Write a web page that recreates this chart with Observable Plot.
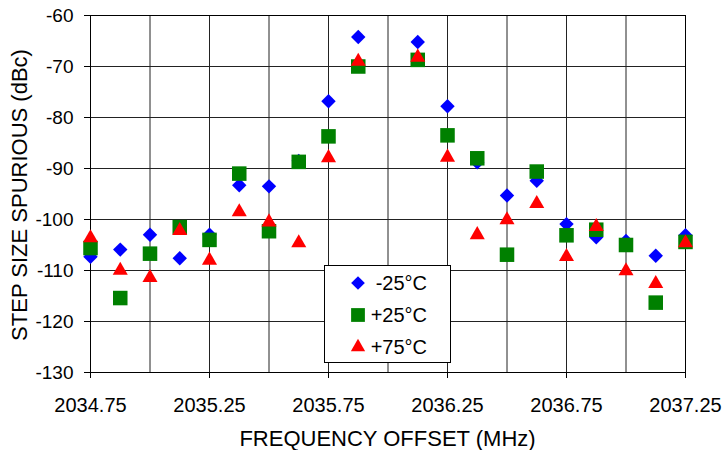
<!DOCTYPE html>
<html>
<head>
<meta charset="utf-8">
<script src="https://cdn.jsdelivr.net/npm/d3@7"></script>
<script src="https://cdn.jsdelivr.net/npm/@observablehq/plot@0.6"></script>
<style>
  body { margin: 0; background: #fff; font-family: "Liberation Sans", Arial, Helvetica, sans-serif; }
  #wrap { position: relative; width: 723px; height: 450px; overflow: hidden; }
  #wrap svg { display: block; }
  .ttl { position: absolute; font-size: 22px; color: #000; white-space: nowrap; line-height: 1; }
  #xt { left: 387.5px; top: 428px; transform: translateX(-50%); }
  #yt { left: 20px; top: 195px; transform: translate(-50%, -50%) rotate(-90deg); }
  #legend { position: absolute; left: 324px; top: 265px; width: 125px; height: 96px; border: 1px solid #000; background: #fff; }
</style>
</head>
<body>
<div id="wrap"></div>
<script>
// ---- data ----
const freq = [2034.75, 2034.875, 2035.0, 2035.125, 2035.25, 2035.375, 2035.5, 2035.625, 2035.75, 2035.875,
              2036.125, 2036.25, 2036.375, 2036.5, 2036.625, 2036.75, 2036.875, 2037.0, 2037.125, 2037.25];
const minus25 = [-107.3, -105.9, -103.0, -107.6, -103.0, -93.3, -93.5, -88.5, -76.8, -64.2,
                 -65.2, -77.8, -88.8, -95.3, -92.4, -100.9, -103.5, -104.2, -107.1, -103.1];
const plus25  = [-105.6, -115.4, -106.7, -101.5, -104.0, -91.0, -102.3, -88.7, -83.7, -70.0,
                 -68.7, -83.5, -88.0, -106.9, -90.6, -103.1, -102.0, -105.0, -116.3, -104.4];
const plus75  = [-103.6, -110.0, -111.4, -102.2, -108.0, -98.5, -100.5, -104.6, -87.9, -69.0,
                 -68.2, -87.8, -103.0, -100.1, -96.9, -107.3, -101.4, -110.1, -112.6, -104.6];
const seriesNames = ["-25°C", "+25°C", "+75°C"];
const xTicks = [2034.75, 2035.25, 2035.75, 2036.25, 2036.75, 2037.25];
const xGrid = [2034.75, 2035.0, 2035.25, 2035.5, 2035.75, 2036.0, 2036.25, 2036.5, 2036.75, 2037.0, 2037.25];
const yTicks = [-130, -120, -110, -100, -90, -80, -70, -60];
const xTitle = "FREQUENCY OFFSET (MHz)";
const yTitle = "STEP SIZE SPURIOUS (dBc)";

// ---- styling ----
const colors = ["#0000ff", "#008000", "#ff0000"];
const symbols = ["diamond2", "square", "triangle"];
const radii = [6.5, 8.2, 5.6];

const rows = (vals) => freq.map((f, i) => ({f, v: vals[i]}));
const all = [minus25, plus25, plus75];

const plot = Plot.plot({
  width: 723,
  height: 450,
  marginLeft: 90,
  marginRight: 38,
  marginTop: 15,
  marginBottom: 78,
  style: { fontFamily: '"Liberation Sans", Arial, Helvetica, sans-serif', fontSize: "19px", color: "#000", background: "#fff", overflow: "visible" },
  x: { domain: [2034.75, 2037.25] },
  y: { domain: [-130, -60] },
  marks: [
    Plot.ruleX(xGrid, { stroke: "#222", strokeWidth: 1 }),
    Plot.ruleY(yTicks, { stroke: "#222", strokeWidth: 1 }),
    Plot.frame({ stroke: "#000", strokeWidth: 1 }),
    Plot.axisX({ ticks: xTicks, tickFormat: d => d.toFixed(2), tickSize: 6, tickPadding: 19, label: null, stroke: "#000", fontSize: 20 }),
    Plot.axisY({ ticks: yTicks, tickFormat: d => String(d), tickSize: 6, tickPadding: 11, label: null, stroke: "#000" }),
    ...all.map((vals, k) => Plot.dot(rows(vals), { x: "f", y: "v", symbol: symbols[k], r: radii[k], fill: colors[k], stroke: "none" }))
  ]
});

const wrap = document.getElementById("wrap");
wrap.appendChild(plot);

const xt = document.createElement("div");
xt.className = "ttl"; xt.id = "xt"; xt.textContent = xTitle;
wrap.appendChild(xt);
const yt = document.createElement("div");
yt.className = "ttl"; yt.id = "yt"; yt.textContent = yTitle;
wrap.appendChild(yt);

// legend box
const leg = document.createElement("div");
leg.id = "legend";
wrap.appendChild(leg);
const lsvg = d3.select(leg).append("svg").attr("width", 125).attr("height", 96);
const d3sym = [d3.symbolDiamond2, d3.symbolSquare, d3.symbolTriangle];
const rowY = [17, 49, 81];
seriesNames.forEach((name, k) => {
  lsvg.append("path")
    .attr("transform", `translate(33,${rowY[k]})`)
    .attr("d", d3.symbol(d3sym[k], Math.PI * radii[k] * radii[k] * 0.9)())
    .attr("fill", colors[k]);
  lsvg.append("text")
    .attr("x", 102).attr("y", rowY[k] + 6.5)
    .attr("text-anchor", "end")
    .attr("font-size", 20)
    .attr("font-family", '"Liberation Sans", Arial, Helvetica, sans-serif')
    .text(name);
});
</script>
</body>
</html>
